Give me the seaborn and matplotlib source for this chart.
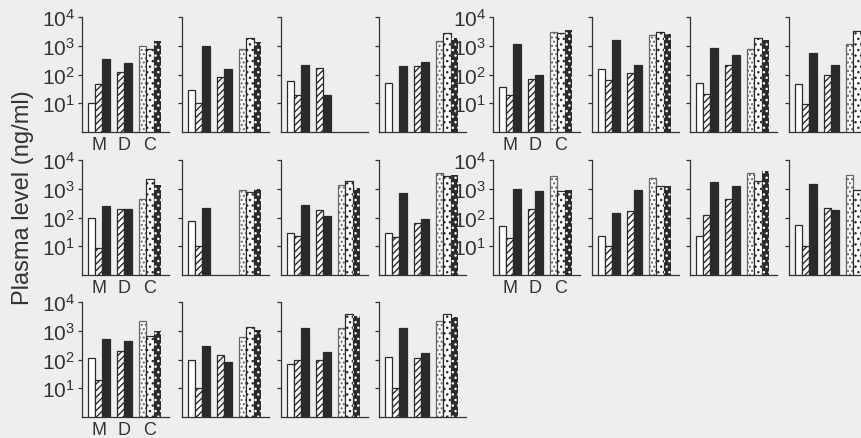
import numpy as np
import pandas as pd
import seaborn as sns
from matplotlib import pyplot as plt
from matplotlib.ticker import NullLocator

# === Data: plasma levels (ng/ml), one entry per panel ===
# panel order: left block rows 1-3 (4 panels each), then right block rows 1-2
panel_ids = ["L1a", "L1b", "L1c", "L1d",
             "L2a", "L2b", "L2c", "L2d",
             "L3a", "L3b", "L3c", "L3d",
             "R1a", "R1b", "R1c", "R1d",
             "R2a", "R2b", "R2c", "R2d"]
nan = np.nan
m_open = [10, 28, 60, 49, 100, 76, 30, 29, 110, 100, 68, 120,
          36, 160, 52, 48, 50, 22, 23, 55]
m_hatch = [48, 10, 19, nan, 9, 10, 22, 21, 19, 10, 100, 10,
           19, 66, 21, 9.5, 19, 10, 126, 10.5]
m_black = [340, 1000, 210, 195, 250, 220, 270, 740, 520, 290, 1250, 1270,
           1150, 1550, 820, 550, 1000, 140, 1700, 1420]
d_hatch = [127, 85, 165, 195, 190, nan, 180, 65, 200, 145, 100, 110,
           70, 115, 220, 100, 200, 175, 450, 215]
d_black = [245, 150, 19, 280, 190, nan, 110, 89, 430, 85, 180, 175,
           97, 215, 475, 210, 840, 890, 1250, 180]
c_fine = [1000, 770, nan, 1450, 450, 900, 1300, 3500, 2150, 590, 1200, 2150,
          3100, 2350, 780, 1150, 2700, 2400, 3500, 3100]
c_dot = [750, 1900, nan, 2800, 2100, 780, 1900, 2700, 640, 1320, 3700, 3800,
         2700, 3100, 1900, 3200, 830, 1200, 1900, 920]
c_black = [1500, 1400, nan, 1800, 1400, 1000, 1100, 3000, 960, 1090, 3300, 2950,
           3500, 2600, 1550, 1700, 900, 1250, 4100, 1200]

group_labels = ["M", "D", "C"]
ytick_values = [10, 100, 1000, 10000]
ytick_labels = [r"$\mathregular{10^{1}}$", r"$\mathregular{10^{2}}$",
                r"$\mathregular{10^{3}}$", r"$\mathregular{10^{4}}$"]
ylabel = "Plasma level (ng/ml)"

# === Long table for seaborn ===
series = {"m_open": m_open, "m_hatch": m_hatch, "m_black": m_black,
          "d_hatch": d_hatch, "d_black": d_black,
          "c_fine": c_fine, "c_dot": c_dot, "c_black": c_black}
slot = {"m_open": 0, "m_hatch": 1, "m_black": 2, "d_hatch": 4, "d_black": 5,
        "c_fine": 7, "c_dot": 8, "c_black": 9}
pos_to_kind = {v: k for k, v in slot.items()}

rows = []
for kind, vals in series.items():
    for pid, v in zip(panel_ids, vals):
        if not np.isnan(v):
            rows.append({"panel": pid, "kind": kind, "pos": slot[kind], "value": v})
df = pd.DataFrame(rows)

# === Style ===
sns.set_style("ticks")
plt.rcParams["font.family"] = ["Liberation Sans", "DejaVu Sans"]
plt.rcParams["mathtext.default"] = "regular"
plt.rcParams["hatch.linewidth"] = 1.0

ink = "#2a2a2a"
bg = "#eeeeec"
styles = {
    "m_open": dict(facecolor="white", edgecolor=ink, hatch=None, linewidth=0.9),
    "m_hatch": dict(facecolor="white", edgecolor=ink, hatch="/////", linewidth=0.9),
    "m_black": dict(facecolor=ink, edgecolor=ink, hatch=None, linewidth=0.9),
    "d_hatch": dict(facecolor="white", edgecolor=ink, hatch="/////", linewidth=0.9),
    "d_black": dict(facecolor=ink, edgecolor=ink, hatch=None, linewidth=0.9),
    "c_fine": dict(facecolor="white", edgecolor="#666666", hatch="....", linewidth=0.9),
    "c_dot": dict(facecolor="white", edgecolor=ink, hatch="...", linewidth=0.9),
    "c_black": dict(facecolor=ink, edgecolor="white", hatch="...", linewidth=0),
}

# === Layout (pixels) ===
W, H = 862, 439
col_x = {"L": [82, 182, 281, 379], "R": [493, 592, 690, 789]}
row_base = [133, 276, 418]
ax_w, ax_h = 87, 115

fig = plt.figure(figsize=(W / 100, H / 100), dpi=100, facecolor=bg)

for pid in panel_ids:
    block, r, c = pid[0], int(pid[1]) - 1, "abcd".index(pid[2])
    x0, base = col_x[block][c], row_base[r]
    ax = fig.add_axes([x0 / W, (H - base) / H, ax_w / W, ax_h / H])
    ax.set_facecolor("none")

    sub = df[df["panel"] == pid]
    sns.barplot(data=sub, x="pos", y="value", native_scale=True, width=1,
                errorbar=None, ax=ax)
    for p in ax.patches:
        center = int(round(p.get_x() + p.get_width() / 2))
        p.set_x(center - 0.5)
        p.set_width(1)
        p.set(**styles[pos_to_kind[center]])

    ax.set_yscale("log")
    ax.set_ylim(1, 1e4)
    ax.set_xlim(-1.3, 10.6)
    ax.set(xlabel="", ylabel="")
    ax.yaxis.set_minor_locator(NullLocator())
    ax.set_yticks(ytick_values)
    for side in ["top", "right"]:
        ax.spines[side].set_visible(False)
    for side in ["left", "bottom"]:
        ax.spines[side].set_color("#333333")
        ax.spines[side].set_linewidth(0.9)
    ax.tick_params(axis="y", direction="out", length=3, width=0.9,
                   color="#333333", labelcolor="#333333", labelsize=15, pad=2)

    if c == 0:
        ax.set_yticklabels(ytick_labels)
        ax.set_xticks([1, 4.5, 8])
        ax.set_xticklabels(group_labels)
        ax.tick_params(axis="x", length=0, labelsize=13,
                       labelcolor="#333333", pad=3)
    else:
        ax.set_yticklabels([])
        ax.set_xticks([])

fig.text(23 / W, 1 - 198 / H, ylabel, rotation=90, ha="center", va="center",
         fontsize=17, color="#333333")

fig.savefig("out.png", dpi=100, facecolor=bg)
